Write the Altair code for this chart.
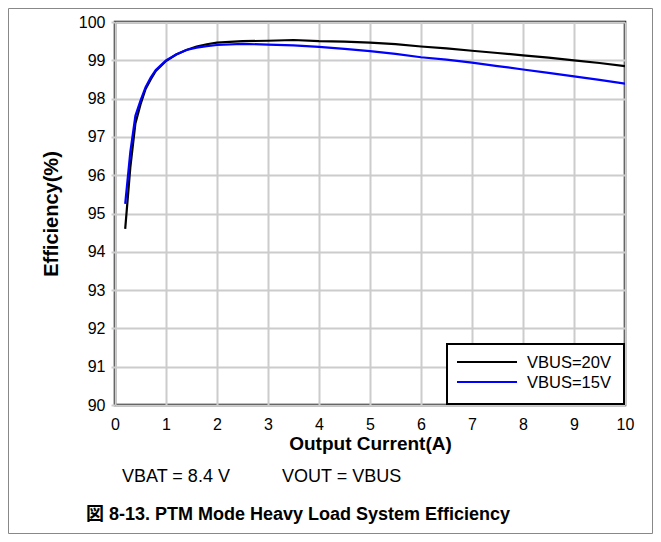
import altair as alt
import pandas as pd

current = [0.2, 0.3, 0.4, 0.5, 0.6, 0.7, 0.8, 1.0, 1.2, 1.4, 1.6, 1.8, 2.0, 2.5, 3.0,
           3.5, 4.0, 4.5, 5.0, 5.5, 6.0, 6.5, 7.0, 7.5, 8.0, 8.5, 9.0, 9.5, 10.0]
vbus20 = [94.6, 96.2, 97.35, 97.85, 98.25, 98.5, 98.72, 98.98, 99.15, 99.27, 99.36, 99.42,
          99.46, 99.5, 99.51, 99.53, 99.5, 99.49, 99.46, 99.42, 99.36, 99.31, 99.25, 99.19,
          99.13, 99.07, 99.0, 98.93, 98.85]
vbus15 = [95.25, 96.6, 97.55, 97.95, 98.3, 98.55, 98.75, 99.0, 99.15, 99.27, 99.33, 99.37,
          99.4, 99.43, 99.41, 99.39, 99.35, 99.3, 99.24, 99.17, 99.08, 99.02, 98.94, 98.85,
          98.76, 98.67, 98.58, 98.49, 98.39]
series = ["VBUS=20V", "VBUS=15V"]
colors = ["#000000", "#0000ff"]
x_ticks = list(range(0, 11))
y_ticks = list(range(90, 101))
note_left = "VBAT = 8.4 V"
note_right = "VOUT = VBUS"
caption = "図 8-13. PTM Mode Heavy Load System Efficiency"

FONT = "Liberation Sans, Arial, Noto Sans CJK JP, sans-serif"

df = pd.concat([
    pd.DataFrame({"current": current, "eff": vbus20, "series": series[0]}),
    pd.DataFrame({"current": current, "eff": vbus15, "series": series[1]}),
])

W, H = 510, 383
PAD = {"left": 107, "top": 14, "right": 28, "bottom": 129}

color = alt.Color("series:N", scale=alt.Scale(domain=series, range=colors), legend=None)

xenc = alt.X("current:Q", scale=alt.Scale(domain=[0, 10], nice=False),
             axis=alt.Axis(values=x_ticks, title="Output Current(A)", ticks=False,
                           labelPadding=11, titlePadding=2, domain=False,
                           labelFontSize=16, titleFontSize=19, titleFontWeight="bold",
                           gridColor="#cccccc", gridWidth=2, labelFlush=False))
yenc = alt.Y("eff:Q", scale=alt.Scale(domain=[90, 100], nice=False, zero=False),
             axis=alt.Axis(values=y_ticks, title="Efficiency(%)", tickSize=4,
                           tickColor="#cccccc", tickWidth=2, labelPadding=6,
                           titlePadding=17, domain=False,
                           labelFontSize=16, titleFontSize=20, titleFontWeight="bold",
                           gridColor="#cccccc", gridWidth=2))

def line_for(name):
    return alt.Chart(df).transform_filter(alt.datum.series == name).mark_line(
        strokeWidth=2.2, clip=True
    ).encode(x=xenc, y=yenc, color=color)

# legend box and entries
leg_box = alt.Chart(pd.DataFrame({"k": [0]})).mark_rect(
    fill="#ffffff", stroke="#000000", strokeWidth=2
).encode(x=alt.value(332), x2=alt.value(509), y=alt.value(322), y2=alt.value(382))

def legend_entry(i, name):
    ypos = 340 + 20 * i
    d = pd.DataFrame({"series": [name]})
    ln = alt.Chart(d).mark_rule(strokeWidth=2).encode(
        x=alt.value(342), x2=alt.value(402), y=alt.value(ypos), color=color)
    tx = alt.Chart(d).mark_text(
        align="left", baseline="middle", fontSize=16.5, font=FONT, color="#000"
    ).encode(text="series:N", x=alt.value(412), y=alt.value(ypos + 1))
    return [ln, tx]

legend_layers = []
for i, s in enumerate(series):
    legend_layers += legend_entry(i, s)

note1 = alt.Chart(pd.DataFrame({"t": [note_left]})).mark_text(
    align="left", baseline="middle", fontSize=18, font=FONT, color="#000"
).encode(text="t:N", x=alt.value(7), y=alt.value(455))
note2 = alt.Chart(pd.DataFrame({"t": [note_right]})).mark_text(
    align="left", baseline="middle", fontSize=18, font=FONT, color="#000"
).encode(text="t:N", x=alt.value(167), y=alt.value(455))
cap = alt.Chart(pd.DataFrame({"t": [caption]})).mark_text(
    align="left", baseline="middle", fontSize=18, fontWeight="bold", font=FONT, color="#000"
).encode(text="t:N", x=alt.value(-29), y=alt.value(493))

frame = alt.Chart(pd.DataFrame({"k": [0]})).mark_rect(
    fill="transparent", stroke="#888888", strokeWidth=1
).encode(x=alt.value(-106.5), x2=alt.value(W + PAD["right"] - 0.5),
         y=alt.value(-13.5), y2=alt.value(H + PAD["bottom"] - 0.5))

chart = alt.layer(
    frame, line_for(series[0]), line_for(series[1]), leg_box, *legend_layers,
    note1, note2, cap
).properties(
    width=W, height=H, padding=PAD, autosize=alt.AutoSizeParams(type="none"),
    background="#ffffff",
).configure_view(stroke="#000000", strokeWidth=2.5).configure_axis(
    labelFont=FONT, titleFont=FONT, labelColor="#000", titleColor="#000"
)

chart.save("out.html", embed_options={"renderer": "svg", "actions": False})
